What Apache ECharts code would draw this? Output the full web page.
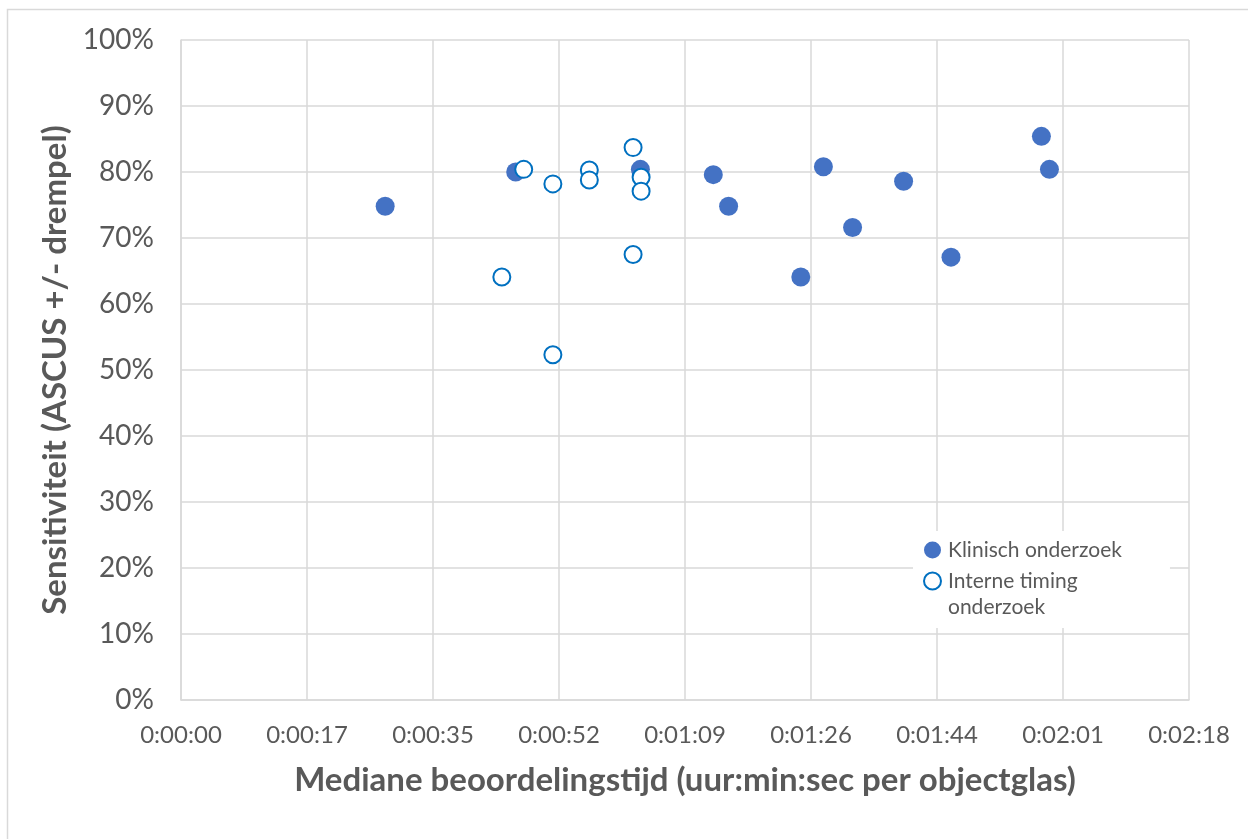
<!DOCTYPE html>
<html>
<head>
<meta charset="utf-8">
<script src="https://cdn.jsdelivr.net/npm/echarts@6/dist/echarts.min.js"></script>
<style>html,body{margin:0;padding:0;background:#fff}#c{width:1248px;height:839px}</style>
</head>
<body>
<div id="c"></div>
<script>
// Data (x in seconds, y in %)
const seriesNames = ['Klinisch onderzoek', 'Interne timing onderzoek'];
const klinischTime = [28.0, 45.9, 63.0, 73.0, 75.1, 85.0, 88.1, 92.1, 99.1, 105.6, 118.0, 119.1];
const klinischSens = [74.8, 80.0, 80.4, 79.6, 74.8, 64.1, 80.8, 71.6, 78.6, 67.1, 85.4, 80.4];
const interneTime = [44.0, 47.0, 51.0, 51.0, 56.0, 56.0, 62.0, 62.0, 63.1, 63.1];
const interneSens = [64.1, 80.4, 78.2, 52.3, 80.3, 78.8, 83.7, 67.5, 79.2, 77.1];
const xTickStep = 17.28; // seconds (Excel 0.0002 day)
const xMax = 138.24;
const xTitle = 'Mediane beoordelingstijd (uur:min:sec per objectglas)';
const yTitle = 'Sensitiviteit (ASCUS +/- drempel)';

function fmtTime(v) {
  const s = Math.round(v);
  const h = Math.floor(s / 3600), m = Math.floor((s % 3600) / 60), sec = s % 60;
  return h + ':' + String(m).padStart(2, '0') + ':' + String(sec).padStart(2, '0');
}
const zip = (a, b) => a.map((v, i) => [v, b[i]]);

const chart = echarts.init(document.getElementById('c'));
const txt = '#595959', grid = '#d9d9d9';
const legRich = {
  a: { color: txt, fontSize: 21, lineHeight: 26, fontFamily: 'Lato' },
  e: { fontSize: 21, lineHeight: 26, fontFamily: 'Lato' }
};
chart.setOption({
  animation: false,
  backgroundColor: '#fff',
  textStyle: { fontFamily: 'Lato' },
  graphic: [{
    type: 'rect', silent: true, z: -1,
    shape: { x: 7.5, y: 9.5, width: 1400, height: 1000 },
    style: { fill: 'none', stroke: grid, lineWidth: 1.5 }
  }],
  grid: { left: 181, right: 59, top: 40, bottom: 139 },
  xAxis: {
    type: 'value', min: 0, max: xMax, interval: xTickStep,
    name: xTitle, nameLocation: 'middle', nameGap: 64,
    nameTextStyle: { color: txt, fontSize: 33, fontWeight: 'bold', fontFamily: 'Lato' },
    axisLine: { show: true, lineStyle: { color: grid, width: 1.5 } },
    axisTick: { show: false },
    axisLabel: { color: txt, fontSize: 24, margin: 23, formatter: fmtTime, fontFamily: 'Lato' },
    splitLine: { show: true, lineStyle: { color: grid, width: 1.5 } }
  },
  yAxis: {
    type: 'value', min: 0, max: 100, interval: 10,
    name: yTitle, nameLocation: 'middle', nameGap: 97,
    nameTextStyle: { color: txt, fontSize: 33, fontWeight: 'bold', fontFamily: 'Lato' },
    axisLine: { show: true, lineStyle: { color: grid, width: 1.5 } },
    axisTick: { show: false },
    axisLabel: { color: txt, fontSize: 28, margin: 27, formatter: '{value}%', fontFamily: 'Lato' },
    splitLine: { show: true, lineStyle: { color: grid, width: 1.5 } }
  },
  legend: {
    orient: 'vertical', left: 913, top: 531,
    backgroundColor: '#fff', padding: [6, 48, 8, 10], itemGap: -21,
    itemWidth: 17, itemHeight: 17, icon: 'circle',
    textStyle: { color: txt, fontSize: 21, lineHeight: 26, fontFamily: 'Lato', padding: [0, 0, 0, 2], rich: legRich },
    formatter: function (name) {
      if (name === seriesNames[1]) return '{e| }\n{a|Interne timing}\n{a|onderzoek}';
      return '{a|' + name + '}';
    },
    data: seriesNames
  },
  series: [
    {
      name: seriesNames[0], type: 'scatter', symbol: 'circle', symbolSize: 19,
      itemStyle: { color: '#4472C4', opacity: 1 },
      data: zip(klinischTime, klinischSens)
    },
    {
      name: seriesNames[1], type: 'scatter', symbol: 'circle', symbolSize: 17,
      itemStyle: { color: '#ffffff', borderColor: '#0070C0', borderWidth: 2, opacity: 1 },
      data: zip(interneTime, interneSens)
    }
  ]
});
</script>
</body>
</html>
